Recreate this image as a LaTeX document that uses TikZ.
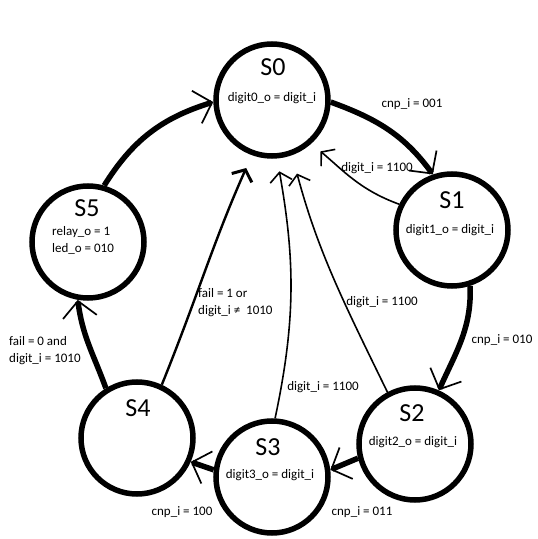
\documentclass[tikz,border=0pt]{standalone}
\usepackage{fontspec}
\setmainfont{Carlito}
\usetikzlibrary{arrows.meta}
\begin{document}
\begin{tikzpicture}[x=1pt,y=1pt,
  state/.style={circle, draw, line width=5.5pt, minimum size=112pt, inner sep=0pt},
  stitle/.style={font=\fontsize{26}{28}\selectfont, inner sep=0pt},
  stext/.style={font=\fontsize{13}{17}\selectfont, inner sep=0pt},
  lbl/.style={font=\fontsize{13}{17}\selectfont, inner sep=0pt},
  thickarr/.style={line width=5.5pt, -{Straight Barb[length=16pt,width=34pt,line width=1.7pt 0]}},
  thinarr/.style={line width=1.6pt, -{Straight Barb[length=9pt,width=22pt,line width=1.6pt 0]}},
  boldthinarr/.style={line width=2.4pt, -{Straight Barb[length=9pt,width=22pt,line width=3pt 0]}},
]
\fill[white] (0,0) rectangle (538,539);
\useasboundingbox (0,0) rectangle (538,539);

% states
\node[state] (s0) at (272,439) {};
\node[state] (s1) at (452,309) {};
\node[state] (s2) at (415,95) {};
\node[state] (s3) at (272,62) {};
\node[state] (s4) at (137,101) {};
\node[state] (s5) at (88,297) {};

% state texts
\node[stitle] (t0) at (273,472) {S0};
\node[stext] (o0) at (272,441) {digit0\_o = digit\_i};
\node[stitle] (t1) at (452,339) {S1};
\node[stext] (o1) at (450,309) {digit1\_o = digit\_i};
\node[stitle] (t2) at (412,126) {S2};
\node[stext] (o2) at (413,97) {digit2\_o = digit\_i};
\node[stitle] (t3) at (268,92) {S3};
\node[stext] (o3) at (270,64) {digit3\_o = digit\_i};
\node[stitle] (t4) at (138,131) {S4};
\node[stitle] (t5) at (87,331) {S5};
\node[stext, anchor=west, align=left] (o5) at (52,299) {relay\_o = 1\\led\_o = 010};

% transitions
\draw[thickarr] (s0.-2) to[out=-20,in=126] (s1.109);
\draw[thinarr, shorten >=12pt] (s1.154) to[out=160,in=-40] (s0.-48);
\draw[thickarr] (s1.-72) to[out=-88,in=66] (s2.66);
\draw[thickarr] (s2.194) -- (s3.7);
\draw[thickarr] (s3.173) -- (s4.-24);
\draw[thickarr] (s4.122) to[out=110,in=-83] (s5.-100);
\draw[thickarr] (s5.74) to[out=58,in=197] (s0.182);
\draw[boldthinarr, shorten >=14pt] (s4.65) to[out=68,in=-114] (s0.250);
\draw[thinarr, shorten >=13pt] (s3.87) to[out=78,in=-80] (s0.-85);
\draw[thinarr, shorten >=19pt] (s2.118) to[out=116,in=-75] (s0.-70);

% labels
\node[lbl] (l01) at (412,435) {cnp\_i = 001};
\node[lbl] (l10) at (377,371) {digit\_i = 1100};
\node[lbl] (l12) at (502,199) {cnp\_i = 010};
\node[lbl] (l20) at (382,237) {digit\_i = 1100};
\node[lbl] (l30) at (323,152) {digit\_i = 1100};
\node[lbl] (l23) at (362,27) {cnp\_i = 011};
\node[lbl] (l34) at (182,27) {cnp\_i = 100};
\node[lbl, anchor=west, align=left] (l45) at (9,188.5) {fail = 0 and\\digit\_i = 1010};
\node[lbl, anchor=west, align=left] (l40) at (198,236) {fail = 1 or\\digit\_i ≠\ \ 1010};
\end{tikzpicture}
\end{document}
